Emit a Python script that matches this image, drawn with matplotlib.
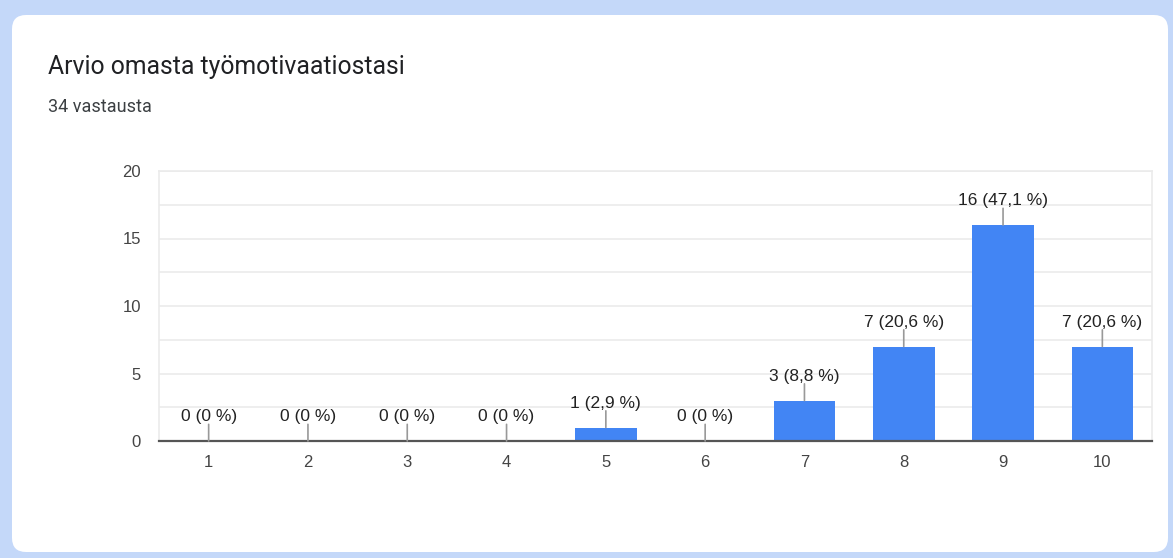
import matplotlib
matplotlib.use("Agg")
import matplotlib.pyplot as plt
from matplotlib.patches import FancyBboxPatch

# response counts per rating 1..10
ratings = ["1", "2", "3", "4", "5", "6", "7", "8", "9", "10"]
counts = [0, 0, 0, 0, 1, 0, 3, 7, 16, 7]
value_labels = ["0 (0 %)", "0 (0 %)", "0 (0 %)", "0 (0 %)", "1 (2,9 %)",
                "0 (0 %)", "3 (8,8 %)", "7 (20,6 %)", "16 (47,1 %)", "7 (20,6 %)"]
y_ticks = [0, 5, 10, 15, 20]

W, H = 1173, 558
fig = plt.figure(figsize=(W / 100, H / 100), dpi=100)
fig.patch.set_facecolor("#c4d8f9")

# white card behind everything
card = FancyBboxPatch((12 / W, 6 / H), 1156 / W, 537 / H,
                      boxstyle="round,pad=0,rounding_size=0.012",
                      transform=fig.transFigure, facecolor="white",
                      edgecolor="none", mutation_aspect=W / H, zorder=-10)
fig.patches.append(card)

plt.rcParams["font.family"] = ["Liberation Sans", "DejaVu Sans"]

fig.text(48 / W, 1 - 67 / H, "Arvio omasta työmotivaatiostasi", fontsize=17.8,
         color="#202124", va="center", ha="left", family=["Roboto", "DejaVu Sans"])
fig.text(48 / W, 1 - 107 / H, "34 vastausta", fontsize=13, color="#3c4043",
         va="center", ha="left", family=["Roboto", "DejaVu Sans"])

ax = fig.add_axes([159 / W, (H - 441) / H, 993 / W, 270 / H])
x = list(range(len(ratings)))
ax.bar(x, counts, width=0.62, color="#4285f4", zorder=3)

ax.set_xlim(-0.5, len(ratings) - 0.5)
ax.set_ylim(0, 20)
ax.set_yticks(y_ticks)
ax.set_yticks([2.5, 7.5, 12.5, 17.5], minor=True)
ax.set_xticks(x)
ax.set_xticklabels(ratings)
ax.tick_params(axis="both", length=0, labelsize=12, colors="#444444")
ax.tick_params(axis="y", which="minor", length=0)
ax.tick_params(axis="y", pad=13)
ax.tick_params(axis="x", pad=10)
ax.grid(axis="y", which="both", color="#ebebeb", linewidth=1.2, zorder=0)

for side in ["top", "right", "left"]:
    ax.spines[side].set_color("#ebebeb")
    ax.spines[side].set_linewidth(1.2)
ax.spines["bottom"].set_color("#555555")
ax.spines["bottom"].set_linewidth(1.6)
ax.spines["bottom"].set_zorder(4)

for xi, v, lab in zip(x, counts, value_labels):
    ax.annotate("", xy=(xi, v), xytext=(0, 12), textcoords="offset points",
                arrowprops=dict(arrowstyle="-", color="#999999", lw=1.2,
                                shrinkA=0, shrinkB=0), zorder=5)
    ax.annotate(lab, xy=(xi, v), xytext=(0, 12), textcoords="offset points",
                ha="center", va="bottom", fontsize=12.5, color="#222222", zorder=5)

fig.savefig("out.png", dpi=100, facecolor=fig.get_facecolor())
